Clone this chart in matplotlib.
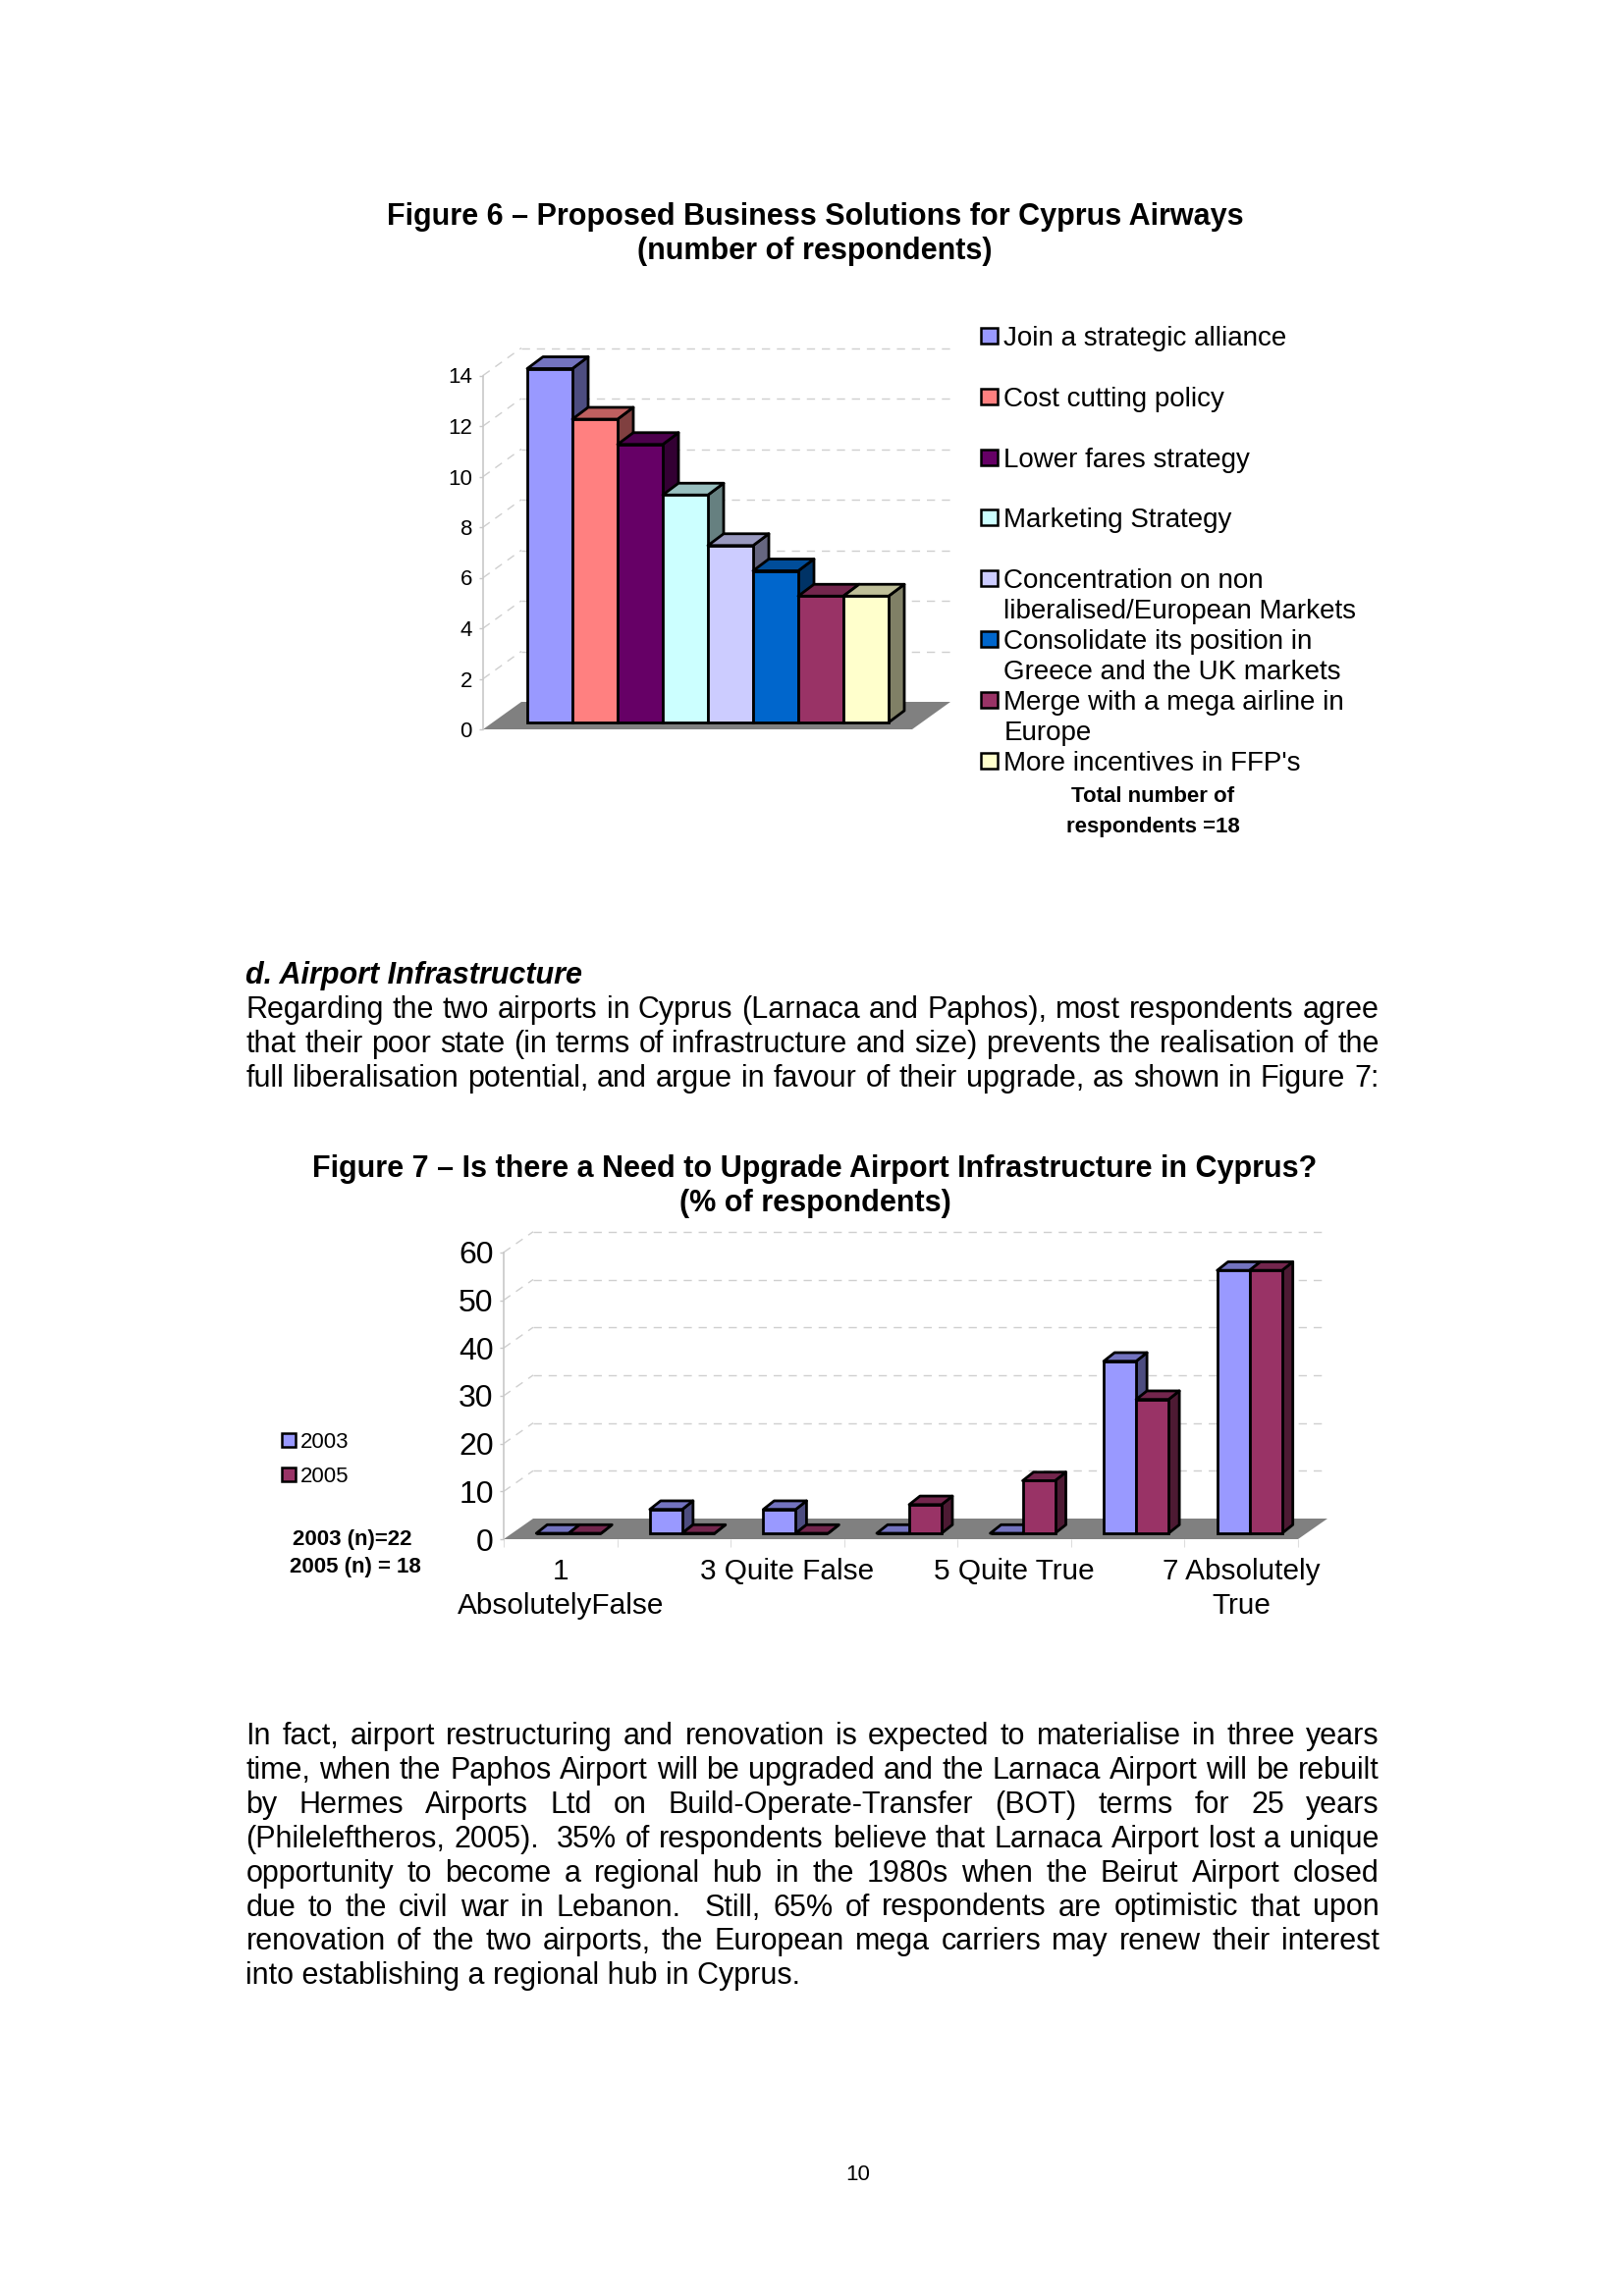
import matplotlib
matplotlib.use("Agg")
import matplotlib.pyplot as plt
from matplotlib.patches import Rectangle, Polygon

W, H = 1654, 2339
plt.rcParams['font.family'] = ['Liberation Sans', 'DejaVu Sans']

# ---- data
solutions = ["Join a strategic alliance", "Cost cutting policy", "Lower fares strategy",
             "Marketing Strategy", "Concentration on non\nliberalised/European Markets",
             "Consolidate its position in\nGreece and the UK markets",
             "Merge with a mega airline in\nEurope", "More incentives in FFP's"]
respondents = [14, 12, 11, 9, 7, 6, 5, 5]
solution_colors = ['#9999FF', '#FF8080', '#660066', '#CCFFFF', '#CCCCFF', '#0066CC', '#993366', '#FFFFCC']
ticks6 = [0, 2, 4, 6, 8, 10, 12, 14]

scale_labels = ["1\nAbsolutelyFalse", "", "3 Quite False", "", "5 Quite True", "", "7 Absolutely\nTrue"]
scale_pos = [1, 2, 3, 4, 5, 6, 7]
pct_2003 = [0, 5, 5, 0, 0, 36, 55]
pct_2005 = [0, 0, 0, 6, 11, 28, 55]
ticks7 = [0, 10, 20, 30, 40, 50, 60]
color_2003, color_2005 = '#9999FF', '#993366'

para1 = ["Regarding the two airports in Cyprus (Larnaca and Paphos), most respondents agree",
         "that their poor state (in terms of infrastructure and size) prevents the realisation of the",
         "full liberalisation potential, and argue in favour of their upgrade, as shown in Figure 7:"]
para2 = ["In fact, airport restructuring and renovation is expected to materialise in three years",
         "time, when the Paphos Airport will be upgraded and the Larnaca Airport will be rebuilt",
         "by Hermes Airports Ltd on Build-Operate-Transfer (BOT) terms for 25 years",
         "(Phileleftheros, 2005).  35% of respondents believe that Larnaca Airport lost a unique",
         "opportunity to become a regional hub in the 1980s when the Beirut Airport closed",
         "due to the civil war in Lebanon.  Still, 65% of respondents are optimistic that upon",
         "renovation of the two airports, the European mega carriers may renew their interest",
         "into establishing a regional hub in Cyprus."]

fig = plt.figure(figsize=(W / 200, H / 200), dpi=200)
fig.patch.set_facecolor('white')
page = fig.add_axes([0, 0, 1, 1])
page.set_xlim(0, W); page.set_ylim(H, 0); page.axis('off')


def shade(c, f):
    r, g, b = matplotlib.colors.to_rgb(c)
    return (r * f, g * f, b * f)


def box3d(ax, x0, x1, base, top, color, dx, dy, lw):
    ax.add_patch(Polygon([(x1, base), (x1 + dx, base + dy), (x1 + dx, top + dy), (x1, top)], closed=True,
                         fc=shade(color, .5), ec='black', lw=lw, clip_on=False, zorder=3, joinstyle='round'))
    ax.add_patch(Polygon([(x0, top), (x1, top), (x1 + dx, top + dy), (x0 + dx, top + dy)], closed=True,
                         fc=shade(color, .75), ec='black', lw=lw, clip_on=False, zorder=3, joinstyle='round'))
    ax.add_patch(Rectangle((x0, base), x1 - x0, top - base, fc=color, ec='black', lw=lw, clip_on=False, zorder=3))


def walls(ax, xl, xr, levels, dx, dy):
    grid = dict(color='#CFCFCF', lw=0.5, dashes=(6, 5), zorder=1, clip_on=False)
    for v in levels:
        if v > 0:
            ax.plot([xl + dx, xr + dx], [v + dy, v + dy], **grid)
            ax.plot([xl, xl + dx], [v, v + dy], **grid)
    ax.add_patch(Polygon([(xl, 0), (xr, 0), (xr + dx, dy), (xl + dx, dy)], closed=True,
                         fc='#808080', ec='none', zorder=2, clip_on=False))


def axes_px(left, right, ytop, ybot):
    return fig.add_axes([left / W, 1 - ybot / H, (right - left) / W, (ybot - ytop) / H])


def style(ax, ticks, fs, pad):
    ax.patch.set_alpha(0)
    for s in ['top', 'right', 'bottom']:
        ax.spines[s].set_visible(False)
    ax.spines['left'].set_color('#C8C8C8')
    ax.spines['left'].set_linewidth(0.6)
    ax.set_yticks(ticks)
    ax.tick_params(axis='y', labelsize=fs, length=1.5, width=0.5, color='#C8C8C8', pad=pad)


# ---- Figure 6
bw6, un6 = 46.0, 25.75
ax = axes_px(492, 929, 743 - 14 * un6, 743)
ax.set_ylim(0, 14)
ax.set_xlim((492 - 537) / bw6, (929 - 537) / bw6)
style(ax, ticks6, 8, 2.5)
ax.set_xticks([])
xl, xr = ax.get_xlim()
walls(ax, xl, xr, ticks6, 39 / bw6, 28 / un6)
base6 = 7 / un6
for i, (v, c) in enumerate(zip(respondents, solution_colors)):
    box3d(ax, i, i + 1, base6, base6 + v, c, 16 / bw6, 12 / un6, 1.0)

# ---- Figure 7
slot, un7 = 115.6, 4.87
ax = axes_px(513, 1322, 1568 - 60 * un7, 1568)
ax.set_ylim(0, 60)
ax.set_xlim(0.5, 7.5)
style(ax, ticks7, 11.5, 2.2)
ax.set_xticks(scale_pos)
ax.set_xticklabels(scale_labels, fontsize=10.7, linespacing=1.32)
ax.tick_params(axis='x', length=0, pad=7)
ax.set_xticks([1.5 + k for k in range(-1, 7)], minor=True)
ax.tick_params(axis='x', which='minor', length=3, width=0.4, color='#DDDDDD')
walls(ax, 0.5, 7.5, ticks7, 30 / slot, 21 / un7)
base7 = 6 / un7
bw7 = 33 / slot
for p, a, b in zip(scale_pos, pct_2003, pct_2005):
    x0 = p + 8.5 / slot - bw7
    box3d(ax, x0, x0 + bw7, base7, base7 + a, color_2003, 11 / slot, 8.7 / un7, 1.0)
    box3d(ax, x0 + bw7, x0 + 2 * bw7, base7, base7 + b, color_2005, 11 / slot, 8.7 / un7, 1.0)


# ---- page text
def justified(line, x0, x1, y, fs):
    words = line.split(' ')
    r = fig.canvas.get_renderer()
    widths = []
    for w in words:
        t = page.text(0, 0, w, fontsize=fs)
        widths.append(t.get_window_extent(r).width if w else 0)
        t.remove()
    gap = (x1 - x0 - sum(widths)) / (len(words) - 1)
    x = x0
    for w, wd in zip(words, widths):
        if w:
            page.text(x, y, w, fontsize=fs, va='baseline', ha='left')
        x += wd + gap


LEFT, RIGHT = 250.5, 1404.5
page.text(830, 229, "Figure 6 – Proposed Business Solutions for Cyprus Airways", fontsize=11, weight='bold', ha='center', va='baseline')
page.text(830, 264, "(number of respondents)", fontsize=11, weight='bold', ha='center', va='baseline')
page.text(830, 1199, "Figure 7 – Is there a Need to Upgrade Airport Infrastructure in Cyprus?", fontsize=11, weight='bold', ha='center', va='baseline')
page.text(830, 1234, "(% of respondents)", fontsize=11, weight='bold', ha='center', va='baseline')
page.text(LEFT, 1002, "d. Airport Infrastructure", fontsize=11, weight='bold', style='italic', va='baseline')

for k, line in enumerate(para1):
    justified(line, LEFT, RIGHT, 1037 + k * 34.8, 11)
for k, line in enumerate(para2):
    if k == len(para2) - 1:
        page.text(LEFT, 1777 + k * 34.9, line, fontsize=11, va='baseline')
    else:
        justified(line, LEFT, RIGHT, 1777 + k * 34.9, 11)

# legend Figure 6
for k, (lab, c) in enumerate(zip(solutions, solution_colors)):
    yc = 342 + k * 61.8
    page.add_patch(Rectangle((999, yc - 8), 17, 16, fc=c, ec='black', lw=0.9))
    for j, part in enumerate(lab.split('\n')):
        page.text(1022.5, yc + 10 + j * 31, part, fontsize=10, va='baseline')
page.text(1174, 817, "Total number of", fontsize=8, weight='bold', ha='center', va='baseline')
page.text(1174, 848, "respondents =18", fontsize=8, weight='bold', ha='center', va='baseline')

# legend Figure 7
for lab, c, yc in [("2003", color_2003, 1467), ("2005", color_2005, 1502)]:
    page.add_patch(Rectangle((287, yc - 7), 14, 14, fc=c, ec='black', lw=0.9))
    page.text(306, yc + 8, lab, fontsize=8, va='baseline')
page.text(359, 1574, "2003 (n)=22", fontsize=8, weight='bold', ha='center', va='baseline')
page.text(362, 1602, "2005 (n) = 18", fontsize=8, weight='bold', ha='center', va='baseline')
page.text(874, 2221, "10", fontsize=8, ha='center', va='baseline')

fig.savefig('out.png', dpi=200, facecolor='white')
